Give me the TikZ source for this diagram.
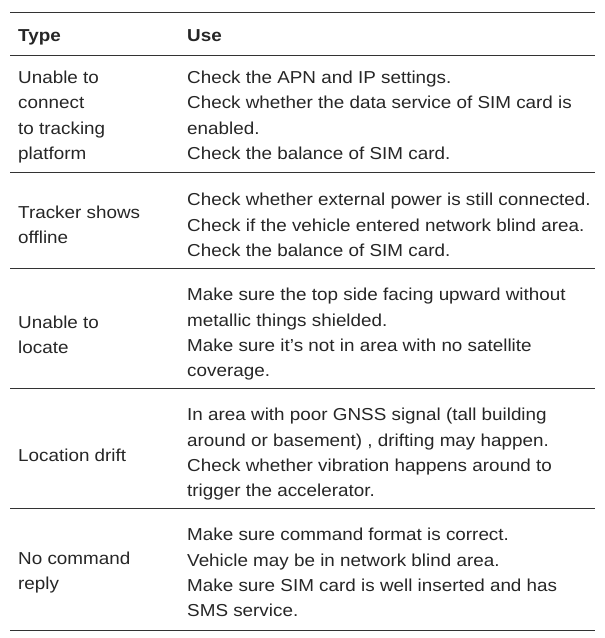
\documentclass[tikz,border=0pt]{standalone}
\usepackage{fontspec}
\setmainfont{Liberation Sans}
\begin{document}
\begin{tikzpicture}[x=1pt,y=-1pt,
  txt/.style={anchor=base west,inner sep=0pt,font=\fontsize{17.3}{18}\selectfont,text=black!85,xscale=1.09},
  hd/.style={txt,font=\fontsize{17.3}{18}\selectfont\bfseries},
  rule/.style={line width=0.9pt,black!80}]
\useasboundingbox (0,0) rectangle (605,638);
\foreach \y/\n in {12/r0,55/r1,172/r2,268/r3,388/r4,508/r5,630/r6}{
  \coordinate (\n a) at (10,\y); \coordinate (\n b) at (595,\y);
  \draw[rule] (\n a) -- (\n b);}
\node[hd] (h1) at (18,41) {Type};
\node[hd] (h2) at (187,41) {Use};
% row 1
\node[txt] (a1) at (18,83) {Unable to};
\node[txt] (a2) at (18,108) {connect};
\node[txt] (a3) at (18,134) {to tracking};
\node[txt] (a4) at (18,159) {platform};
\node[txt] (b1) at (187,83) {Check the APN and IP settings.};
\node[txt] (b2) at (187,108) {Check whether the data service of SIM card is};
\node[txt] (b3) at (187,134) {enabled.};
\node[txt] (b4) at (187,159) {Check the balance of SIM card.};
% row 2
\node[txt] (c1) at (18,218) {Tracker shows};
\node[txt] (c2) at (18,243) {offline};
\node[txt] (d1) at (187,205) {Check whether external power is still connected.};
\node[txt] (d2) at (187,231) {Check if the vehicle entered network blind area.};
\node[txt] (d3) at (187,256) {Check the balance of SIM card.};
% row 3
\node[txt] (e1) at (18,328) {Unable to};
\node[txt] (e2) at (18,353) {locate};
\node[txt] (f1) at (187,300) {Make sure the top side facing upward without};
\node[txt] (f2) at (187,326) {metallic things shielded.};
\node[txt] (f3) at (187,351) {Make sure it’s not in area with no satellite};
\node[txt] (f4) at (187,376) {coverage.};
% row 4
\node[txt] (g1) at (18,461) {Location drift};
\node[txt] (h1b) at (187,420) {In area with poor GNSS signal (tall building};
\node[txt] (h2b) at (187,446) {around or basement) , drifting may happen.};
\node[txt] (h3b) at (187,471) {Check whether vibration happens around to};
\node[txt] (h4b) at (187,496) {trigger the accelerator.};
% row 5
\node[txt] (i1) at (18,564) {No command};
\node[txt] (i2) at (18,589) {reply};
\node[txt] (j1) at (187,540) {Make sure command format is correct.};
\node[txt] (j2) at (187,566) {Vehicle may be in network blind area.};
\node[txt] (j3) at (187,591) {Make sure SIM card is well inserted and has};
\node[txt] (j4) at (187,616) {SMS service.};
\end{tikzpicture}
\end{document}
